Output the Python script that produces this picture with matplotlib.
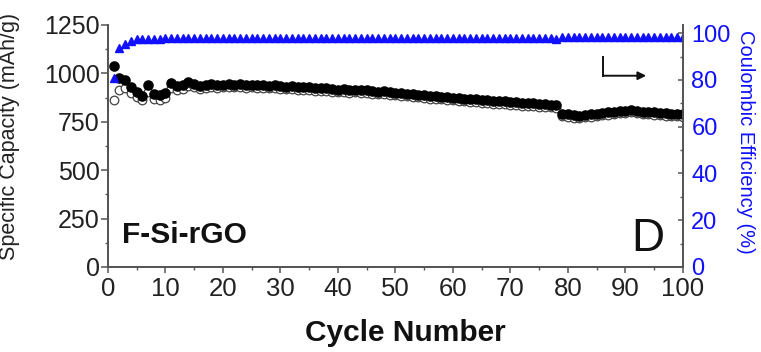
import matplotlib
matplotlib.use("Agg")
import matplotlib.pyplot as plt
from matplotlib.ticker import MultipleLocator

plt.rcParams['font.family'] = ['Liberation Sans', 'DejaVu Sans']

cycles = list(range(1, 101))

discharge = [1040, 975, 965, 930, 905, 885, 940, 895, 888, 900,
             950, 935, 940, 958, 945, 935, 940, 945, 940, 942,
             945, 942, 946, 940, 942, 938, 940, 936, 938, 935,
             932, 934, 930, 928, 930, 925, 922, 924, 918, 916,
             918, 914, 916, 913, 915, 910, 905, 908, 902, 900,
             898, 895, 893, 890, 888, 884, 882, 880, 878, 875,
             872, 870, 868, 866, 862, 860, 858, 856, 855, 852,
             850, 848, 846, 845, 842, 840, 838, 835, 792, 788,
             784, 780, 785, 788, 790, 795, 798, 800, 805, 808,
             810, 806, 802, 800, 798, 795, 794, 792, 790, 788]

charge = [865, 915, 925, 900, 880, 862, 905, 868, 862, 875,
          925, 915, 920, 935, 928, 920, 925, 928, 925, 928,
          930, 928, 930, 926, 928, 924, 926, 922, 924, 921,
          918, 920, 916, 914, 916, 911, 908, 910, 904, 902,
          904, 900, 902, 899, 901, 896, 891, 894, 888, 886,
          884, 881, 879, 876, 874, 870, 868, 866, 864, 861,
          858, 856, 854, 852, 848, 846, 844, 842, 841, 838,
          836, 834, 832, 831, 828, 826, 824, 821, 780, 776,
          772, 768, 773, 776, 778, 783, 786, 788, 793, 796,
          798, 794, 790, 788, 786, 783, 782, 780, 778, 776]

efficiency = [81.0, 93.5, 95.5, 96.8, 97.3, 97.5, 97.6, 97.7, 97.7, 97.8,
              97.8, 97.8, 97.8, 97.9, 97.8, 97.8, 97.9, 97.8, 97.9, 97.9,
              97.9, 97.8, 97.9, 97.9, 97.9, 97.9, 97.9, 97.9, 97.9, 97.9,
              97.9, 97.9, 97.9, 97.9, 97.9, 97.9, 97.9, 97.9, 97.9, 97.9,
              97.9, 97.9, 97.9, 97.9, 97.9, 97.9, 97.9, 97.9, 97.9, 97.9,
              97.9, 97.9, 97.9, 97.9, 97.9, 97.9, 97.9, 97.9, 97.9, 97.9,
              97.9, 97.9, 97.9, 97.9, 97.9, 97.9, 97.9, 97.9, 97.9, 97.9,
              97.9, 97.9, 97.9, 97.9, 97.9, 97.9, 97.9, 97.6, 98.2, 98.2,
              98.2, 98.2, 98.2, 98.2, 98.2, 98.2, 98.2, 98.2, 98.2, 98.2,
              98.2, 98.2, 98.2, 98.2, 98.2, 98.2, 98.2, 98.2, 98.2, 98.2]

cap_ticks = [0, 250, 500, 750, 1000, 1250]
ce_ticks = [0, 20, 40, 60, 80, 100]
cycle_ticks = list(range(0, 101, 10))

spine_col = '#555555'
blue = '#1010ff'

fig = plt.figure(figsize=(7.61, 3.52), dpi=100)
ax = fig.add_axes([0.1419, 0.2415, 0.7556, 0.6875])
ax2 = ax.twinx()

ax.plot(cycles, charge, linestyle='none', marker='o', markersize=6.2,
        markerfacecolor='white', markeredgecolor='#444444', markeredgewidth=0.9, zorder=2)
ax.plot(cycles, discharge, linestyle='none', marker='o', markersize=6.6,
        markerfacecolor='black', markeredgecolor='black', zorder=3)
ax2.plot(cycles, efficiency, linestyle='none', marker='^', markersize=6.2,
         markerfacecolor=blue, markeredgecolor=blue)

ax.set_xlim(0, 100)
ax.set_ylim(0, 1250)
ax2.set_ylim(0, 103.5)

ax.set_xticks(cycle_ticks)
ax.xaxis.set_minor_locator(MultipleLocator(5))
ax.set_yticks(cap_ticks)
ax.yaxis.set_minor_locator(MultipleLocator(125))
ax2.set_yticks(ce_ticks)
ax2.yaxis.set_minor_locator(MultipleLocator(10))

for a in (ax, ax2):
    for s in a.spines.values():
        s.set_color(spine_col)
        s.set_linewidth(1.3)
    a.spines['top'].set_visible(False)

ax.tick_params(axis='x', which='major', direction='out', length=4, width=1.1,
               color=spine_col, labelsize=18.5, pad=3, labelcolor='#222222')
ax.tick_params(axis='x', which='minor', direction='out', length=2.5, width=1.0, color=spine_col)
ax.tick_params(axis='y', which='major', direction='out', length=5, width=1.1,
               color=spine_col, labelsize=18, pad=1, labelcolor='#222222')
ax.tick_params(axis='y', which='minor', direction='out', length=2.5, width=1.0, color=spine_col)
ax2.tick_params(axis='y', which='major', direction='in', length=3.5, width=1.1,
                color=spine_col, labelsize=17, pad=6, labelcolor=blue)
ax2.tick_params(axis='y', which='minor', direction='in', length=2.5, width=1.0, color=spine_col)

ax.set_xlabel('Cycle Number', fontsize=21.5, fontweight='bold', color='#111111')
ax.xaxis.set_label_coords(0.518, -0.215)
ax.set_ylabel('Specific Capacity (mAh/g)', fontsize=15.5, color='#222222')
ax.yaxis.set_label_coords(-0.153, 0.54)
ax2.set_ylabel('Coulombic Efficiency (%)', fontsize=14.5, color=blue, rotation=270, va='center')
ax2.yaxis.set_label_coords(1.108, 0.517)

ax.text(0.025, 0.10, 'F-Si-rGO', transform=ax.transAxes, fontsize=21.5, fontweight='bold',
        color='#111111', ha='left', va='baseline')
ax.text(0.967, 0.065, 'D', transform=ax.transAxes, fontsize=33, color='#111111',
        ha='right', va='baseline')

# pointer toward the efficiency axis
ax.plot([86.1, 86.1], [1085, 988], color='#111111', linewidth=1.4)
ax.annotate('', xy=(93.6, 988), xytext=(86.1, 988),
            arrowprops=dict(arrowstyle='-|>', color='#111111', lw=1.4,
                            mutation_scale=12, shrinkA=0, shrinkB=0))

fig.savefig('out.png', dpi=100)
